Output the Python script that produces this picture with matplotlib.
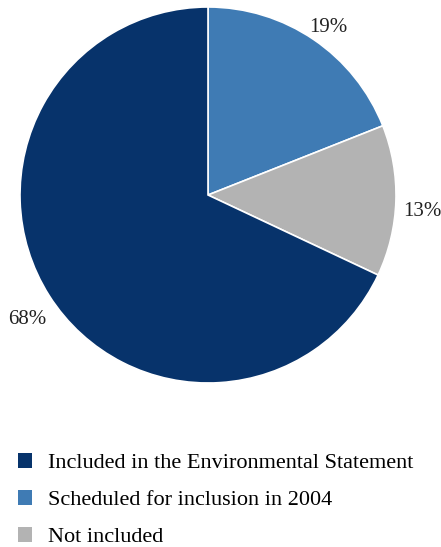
import matplotlib.pyplot as plt
from matplotlib.patches import Patch

# data
labels = ["Included in the Environmental Statement",
          "Scheduled for inclusion in 2004",
          "Not included"]
shares = [68, 19, 13]
colors = ["#07336B", "#3F7BB4", "#B3B3B3"]

# draw order: start at 12 o'clock, clockwise: blue, grey, navy
order = [1, 2, 0]

plt.rcParams["font.family"] = ["Liberation Serif", "DejaVu Serif"]

W, H = 441, 547
fig = plt.figure(figsize=(W / 100, H / 100), dpi=100)
fig.patch.set_facecolor("white")

cx, cy, r = 208, 195, 188
ax = fig.add_axes([(cx - r) / W, (H - cy - r) / H, 2 * r / W, 2 * r / H])

wedges, texts, autotexts = ax.pie(
    [shares[i] for i in order],
    colors=[colors[i] for i in order],
    startangle=90, counterclock=False, radius=1,
    autopct="%d%%", pctdistance=1.14,
    wedgeprops=dict(edgecolor="white", linewidth=1.2),
    textprops=dict(fontsize=15, color="#222222"),
)
for t in autotexts:
    t.set_verticalalignment("top")
ax.set_xlim(-1, 1)
ax.set_ylim(-1, 1)
ax.set_aspect("equal")
ax.axis("off")

handles = [Patch(facecolor=c, edgecolor="none") for c in colors]
fig.legend(handles, labels, loc="upper left", bbox_to_anchor=(18 / W, 1 - 453 / H),
           frameon=False, fontsize=16, handlelength=0.63, handleheight=0.63,
           handletextpad=0.72, labelspacing=0.77, borderpad=0, borderaxespad=0)

fig.savefig("out.png", dpi=100)
